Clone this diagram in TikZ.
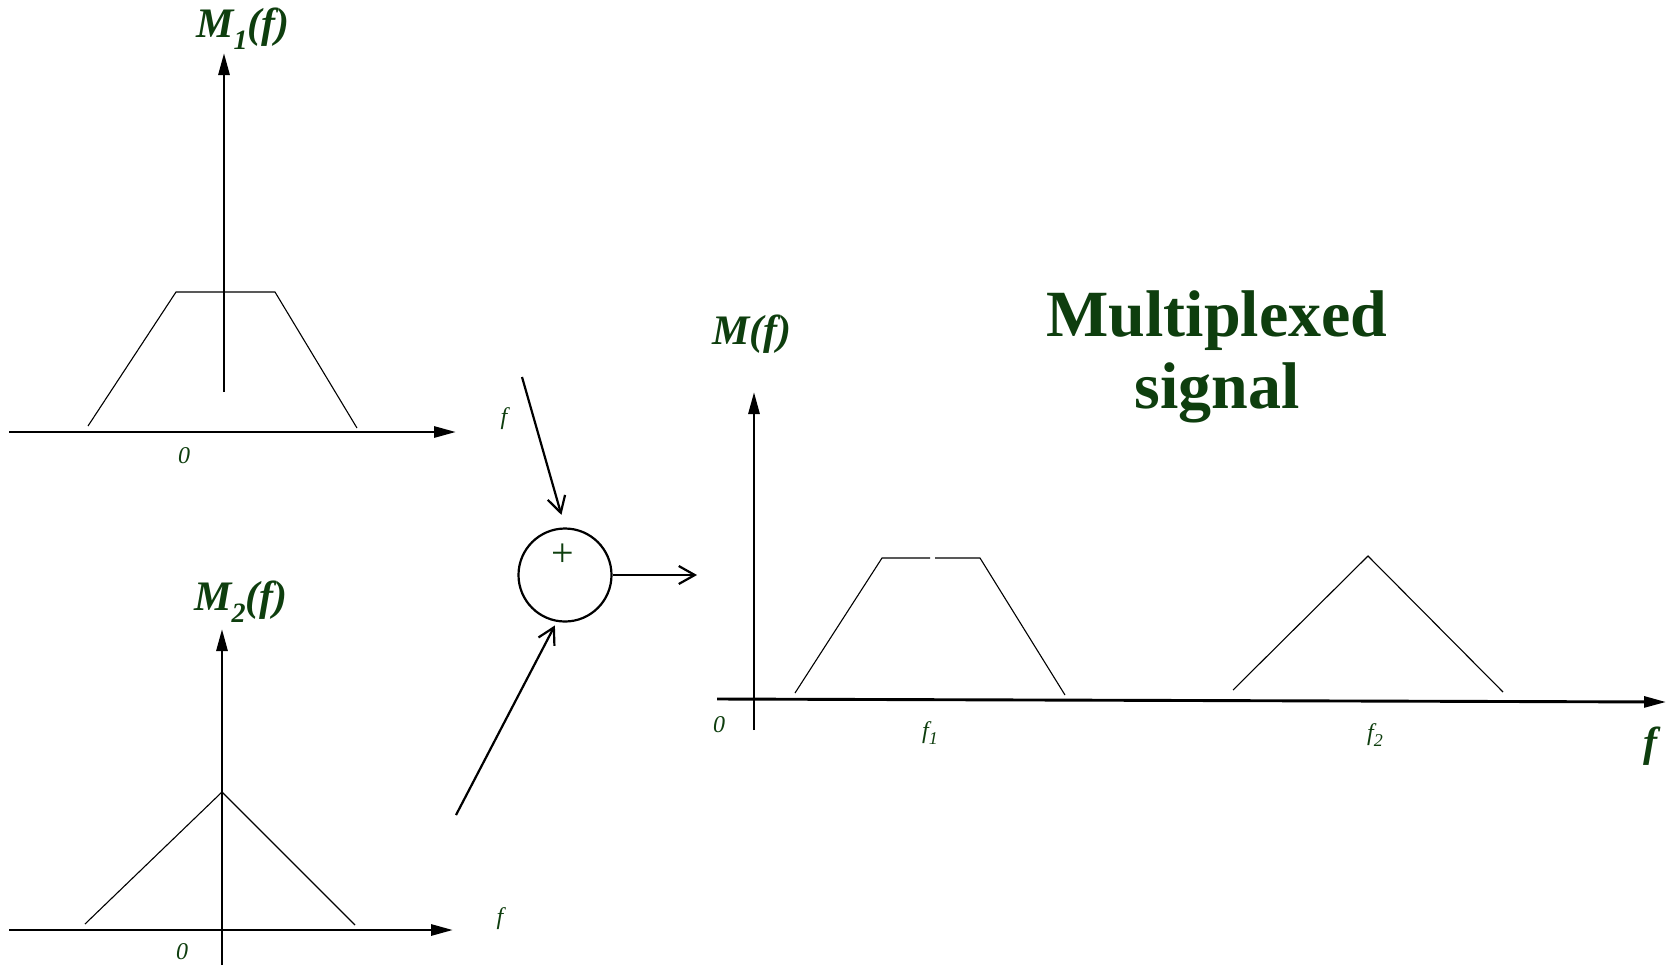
\documentclass[tikz,border=0pt]{standalone}
\usepackage{fontspec}
\setmainfont{Liberation Serif}
\usetikzlibrary{arrows.meta}
\definecolor{lblgreen}{RGB}{14,62,14}
\tikzset{
  axis/.style={line width=1.45pt, -{Triangle[length=11pt,width=5.5pt]}},
  spec/.style={line width=0.55pt},
  feed/.style={line width=1.1pt, -{Straight Barb[length=8pt,width=9pt]}},
  biglbl/.style={text=lblgreen, inner sep=0pt, font=\fontsize{21}{24}\selectfont\bfseries\itshape},
  smalllbl/.style={text=lblgreen, inner sep=0pt, font=\fontsize{12}{14}\selectfont\itshape},
  titlelbl/.style={text=lblgreen, inner sep=0pt, align=center, font=\fontsize{33}{36}\selectfont\bfseries},
}
\newcommand{\subsc}[1]{\raisebox{-0.28em}{\fontsize{14}{14}\selectfont #1}}
\begin{document}
\begin{tikzpicture}[x=0.5pt,y=-0.5pt]
\useasboundingbox (0,0) rectangle (1671,965);
% ---- top panel M1
\coordinate (t0) at (224,392); \coordinate (t1) at (224,53);
\coordinate (h0) at (9,432); \coordinate (h1) at (456,432);
\draw[axis] (t0) -- (t1);
\draw[axis] (h0) -- (h1);
\draw[spec] (88,426) -- (176,292) -- (275,292) -- (357,428);
\node[biglbl] (m1) at (243,29) {M\subsc{1}(f)};
\node[smalllbl] (z1) at (184,456) {0};
\node[smalllbl] (f1l) at (504,419) {f};
% ---- bottom panel M2
\coordinate (b0) at (222,965); \coordinate (b1) at (222,629);
\coordinate (g0) at (9,930); \coordinate (g1) at (453,930);
\draw[axis] (b0) -- (b1);
\draw[axis] (g0) -- (g1);
\draw[spec] (85,924) -- (222,792) -- (355,925);
\node[biglbl] (m2) at (241,602) {M\subsc{2}(f)};
\node[smalllbl] (z2) at (182,952) {0};
\node[smalllbl] (f2l) at (500,919) {f};
% ---- summer
\node[draw, circle, line width=1.1pt, minimum size=46.5pt, inner sep=0pt] (sum) at (565,575) {};
\node[text=lblgreen, inner sep=0pt, font=\fontsize{20}{20}\selectfont] (plus) at (563,555) {+};
\coordinate (in1) at (522,377);
\coordinate (in2) at (456,815);
\coordinate (out) at (697,575);
\draw[feed, shorten >=6.5pt] (in1) -- (sum.north);
\draw[feed, shorten >=2pt] (in2) -- (sum.-100);
\draw[feed] (sum.east) -- (out);
% ---- right panel
\coordinate (r0) at (754,730); \coordinate (r1) at (754,392);
\coordinate (s0) at (717,699); \coordinate (s1) at (1666,702);
\draw[axis] (r0) -- (r1);
\draw[axis] (s0) -- (s1);
\draw[spec] (795,693) -- (882,558) -- (930,558);
\draw[spec] (935,558) -- (980,558) -- (1065,695);
\draw[spec] (1233,690) -- (1368,556) -- (1503,692);
\node[biglbl] (m) at (752,334) {M(f)};
\node[smalllbl] (z3) at (719,725) {0};
\node[smalllbl] (fa) at (930,733) {f\subsc{\fontsize{9}{9}\selectfont 1}};
\node[smalllbl] (fb) at (1375,735) {f\subsc{\fontsize{9}{9}\selectfont 2}};
\node[biglbl] (fbig) at (1650,746) {f};
\node[titlelbl, anchor=base] (title) at (1217,408) {Multiplexed\\signal};
\end{tikzpicture}
\end{document}
